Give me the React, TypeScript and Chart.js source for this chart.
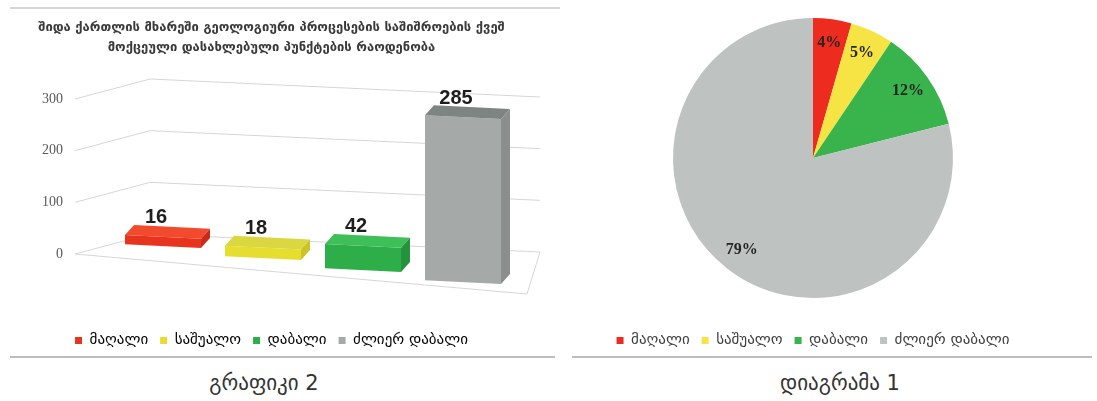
import React, { useEffect, useRef } from "react";
import { Chart, registerables } from "chart.js";

Chart.register(...registerables);

// ---- data ----
const categories = ["მაღალი", "საშუალო", "დაბალი", "ძლიერ დაბალი"];
const settlementCounts = [16, 18, 42, 285];
const yTickValues = [0, 100, 200, 300];
const barTitleLines = [
  "შიდა ქართლის მხარეში გეოლოგიური პროცესების საშიშროების ქვეშ",
  "მოქცეული დასახლებული პუნქტების რაოდენობა",
];
const barCaption = "გრაფიკი 2";
const pieCaption = "დიაგრამა 1";

// ---- styles ----
const barFront = ["#E8341F", "#E6DE2E", "#2EAE48", "#A5AAA8"];
const barTop = ["#F24A2C", "#DAD740", "#3EBF58", "#7E8482"];
const barSide = ["#C92A1A", "#CBC424", "#25933B", "#8A8F8D"];
const pieColors = ["#EE2B1F", "#F6E444", "#39B34B", "#BEC3C2"];

const GEO_FONT = "'DejaVu Sans', 'Noto Sans', sans-serif";
const SERIF = "'Liberation Serif', 'DejaVu Serif', serif";

// perspective look: bars sit on a floor that tilts down to the right
const persp = { slopeBetween: 0.12, slopeWithin: 0.05, stretch: 1.12, pivot: 0.29, dx: 9, dy: 10 };

function project(chart: any, xc: number, x: number, y: number): [number, number] {
  const ca = chart.chartArea;
  const y0 = chart.scales.y.getPixelForValue(0);
  const x0 = ca.left + persp.pivot * (ca.right - ca.left);
  return [x, y0 + persp.stretch * (y - y0) + persp.slopeBetween * (xc - x0) + persp.slopeWithin * (x - xc)];
}

function poly(ctx: CanvasRenderingContext2D, pts: [number, number][], color: string) {
  ctx.fillStyle = color;
  ctx.beginPath();
  ctx.moveTo(pts[0][0], pts[0][1]);
  for (let i = 1; i < pts.length; i++) ctx.lineTo(pts[i][0], pts[i][1]);
  ctx.closePath();
  ctx.fill();
}

const bar3dPlugin = {
  id: "bar3d",
  beforeDatasetsDraw(chart: any) {
    const ctx = chart.ctx;
    const ca = chart.chartArea;
    const ys = chart.scales.y;
    ctx.save();
    ctx.strokeStyle = "#d6d6d6";
    ctx.lineWidth = 1;
    yTickValues.forEach((v) => {
      const y = ys.getPixelForValue(v);
      ctx.beginPath();
      ctx.moveTo(ca.left - 38, y);
      ctx.lineTo(ca.left + 37, y - 20);
      ctx.lineTo(ca.right + 27, y - 2);
      ctx.stroke();
    });
    const y0 = ys.getPixelForValue(0);
    ctx.beginPath();
    ctx.moveTo(ca.left - 38, y0);
    ctx.lineTo(ca.right + 14, y0 + 40);
    ctx.lineTo(ca.right + 27, y0 - 2);
    ctx.stroke();
    ctx.restore();
  },
  beforeDatasetDraw() {
    // faces are drawn below from the bar elements' own geometry
    return false;
  },
  afterDatasetsDraw(chart: any) {
    const ctx = chart.ctx;
    const meta = chart.getDatasetMeta(0);
    ctx.save();
    meta.data.forEach((bar: any, i: number) => {
      const left = bar.x - bar.width / 2;
      const right = bar.x + bar.width / 2;
      const tl = project(chart, bar.x, left, bar.y);
      const tr = project(chart, bar.x, right, bar.y);
      const br = project(chart, bar.x, right, bar.base);
      const bl = project(chart, bar.x, left, bar.base);
      const d = (p: [number, number]): [number, number] => [p[0] + persp.dx, p[1] - persp.dy];
      poly(ctx, [tl, tr, br, bl], barFront[i]);
      poly(ctx, [tl, tr, d(tr), d(tl)], barTop[i]);
      poly(ctx, [tr, d(tr), d(br), br], barSide[i]);
      const c = project(chart, bar.x, bar.x, bar.y);
      ctx.fillStyle = "#1e1e1e";
      ctx.font = "bold 20px 'Liberation Sans', 'DejaVu Sans', sans-serif";
      ctx.textAlign = "center";
      ctx.textBaseline = "middle";
      ctx.fillText(String(settlementCounts[i]), c[0] - 7, c[1] - persp.dy - 9);
    });
    ctx.restore();
  },
};

const pieLabelPlugin = {
  id: "pieLabels",
  afterDatasetsDraw(chart: any) {
    const ctx = chart.ctx;
    const meta = chart.getDatasetMeta(0);
    const data = chart.data.datasets[0].data as number[];
    const total = data.reduce((a, b) => a + b, 0);
    ctx.save();
    ctx.font = "bold 16px " + SERIF;
    ctx.fillStyle = "#262626";
    ctx.textAlign = "center";
    ctx.textBaseline = "middle";
    meta.data.forEach((arc: any, i: number) => {
      const mid = (arc.startAngle + arc.endAngle) / 2;
      const r = arc.outerRadius * 0.83;
      const x = arc.x + Math.cos(mid) * r;
      const y = arc.y + Math.sin(mid) * r;
      ctx.fillText(Math.round((data[i] / total) * 100) + "%", x, y);
    });
    ctx.restore();
  },
};

const legendLabels = {
  boxWidth: 7,
  boxHeight: 7,
  padding: 12,
  color: "#404040",
  font: { family: GEO_FONT, size: 15 },
};

function BarChart() {
  const ref = useRef<HTMLCanvasElement | null>(null);
  useEffect(() => {
    if (!ref.current) return;
    const chart = new Chart(ref.current, {
      type: "bar",
      data: {
        labels: categories,
        datasets: [
          {
            data: settlementCounts,
            backgroundColor: barFront,
            borderWidth: 0,
            barPercentage: 0.76,
            categoryPercentage: 1,
            clip: false as any,
          },
        ],
      },
      options: {
        animation: false,
        responsive: false,
        events: [],
        layout: { padding: { left: 30, right: 47, top: 0, bottom: 0 } },
        scales: {
          x: {
            display: true,
            grid: { display: false },
            border: { display: false },
            ticks: { display: false },
            afterFit: (s: any) => {
              s.height = 67;
            },
          },
          y: {
            min: 0,
            max: 300,
            grid: { display: false },
            border: { display: false },
            ticks: {
              stepSize: 100,
              padding: 42,
              color: "#595959",
              font: { family: SERIF, size: 14 },
            },
            afterFit: (s: any) => {
              s.width = 83;
            },
          },
        },
        plugins: {
          tooltip: { enabled: false },
          title: {
            display: true,
            text: barTitleLines,
            color: "#3a3a3a",
            font: { family: GEO_FONT, size: 13, weight: "bold", lineHeight: 1.5 },
            padding: { top: 8, bottom: 42 },
          },
          legend: {
            display: true,
            position: "bottom",
            labels: {
              ...legendLabels,
              generateLabels: () =>
                categories.map((c, i) => ({
                  text: c,
                  fillStyle: barFront[i],
                  strokeStyle: barFront[i],
                  lineWidth: 0,
                  hidden: false,
                  index: i,
                  datasetIndex: 0,
                })),
            },
          },
        },
      },
      plugins: [bar3dPlugin],
    });
    return () => chart.destroy();
  }, []);
  return <canvas ref={ref} width={560} height={348} style={{ position: "absolute", left: 0, top: 10, width: 560, height: 348 }} />;
}

function PieChart() {
  const ref = useRef<HTMLCanvasElement | null>(null);
  useEffect(() => {
    if (!ref.current) return;
    const chart = new Chart(ref.current, {
      type: "pie",
      data: {
        labels: categories,
        datasets: [
          {
            data: settlementCounts,
            backgroundColor: pieColors,
            borderWidth: 0,
            radius: 140,
          },
        ],
      },
      options: {
        animation: false,
        responsive: false,
        events: [],
        layout: { padding: { top: 7, left: 0, right: 0, bottom: 0 } },
        plugins: {
          tooltip: { enabled: false },
          legend: {
            display: true,
            position: "bottom",
            title: { display: true, text: "", padding: { top: 10, bottom: 0 }, font: { size: 10 } },
            labels: legendLabels,
          },
        },
      },
      plugins: [pieLabelPlugin],
    });
    return () => chart.destroy();
  }, []);
  return <canvas ref={ref} width={568} height={348} style={{ position: "absolute", left: 529, top: 10, width: 568, height: 348 }} />;
}

export default function App() {
  const caption: React.CSSProperties = {
    position: "absolute",
    top: 369,
    fontFamily: GEO_FONT,
    fontSize: 21,
    color: "#333",
    textAlign: "center",
    width: 300,
    lineHeight: "28px",
  };
  return (
    <div style={{ position: "absolute", left: 0, top: 0, width: 1097, height: 401, background: "#fff", overflow: "hidden" }}>
      <div style={{ position: "absolute", left: 10, top: 7, width: 550, height: 2, background: "#d6d6d6" }} />
      <BarChart />
      <PieChart />
      <div style={{ position: "absolute", left: 10, top: 356, width: 545, height: 2, background: "#bdbdbd" }} />
      <div style={{ position: "absolute", left: 572, top: 356, width: 520, height: 2, background: "#bdbdbd" }} />
      <div style={{ ...caption, left: 264 - 150 }}>{barCaption}</div>
      <div style={{ ...caption, left: 840 - 150 }}>{pieCaption}</div>
    </div>
  );
}
